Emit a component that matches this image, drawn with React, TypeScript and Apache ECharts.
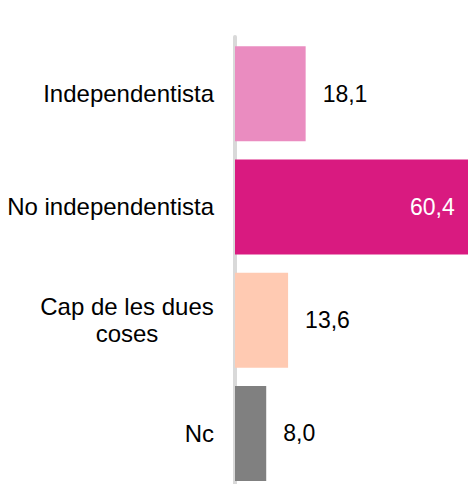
import React, { useEffect, useRef } from "react";
import * as echarts from "echarts";

const categories = ["Independentista", "No independentista", "Cap de les dues coses", "Nc"];
const values = [18.1, 60.4, 13.6, 8.0];
const colors = ["#EA8CC0", "#D91A80", "#FFCAB2", "#808080"];

export default function App() {
  const ref = useRef<HTMLDivElement>(null);
  useEffect(() => {
    if (!ref.current) return;
    const chart = echarts.init(ref.current, undefined, { renderer: "svg" });
    const font = "'Liberation Sans', Arial, sans-serif";
    chart.setOption({
      animation: false,
      grid: { left: 235, top: 37, width: 242, height: 453, containLabel: false },
      xAxis: { type: "value", min: 0, max: 62, show: false },
      yAxis: {
        type: "category",
        data: categories,
        inverse: true,
        axisLine: { show: true, lineStyle: { color: "#d9d9d9", width: 4 } },
        axisTick: { show: false },
        splitLine: { show: false },
        axisLabel: {
          margin: 21,
          fontSize: 24,
          fontFamily: font,
          color: "#000",
          align: "right",
          formatter: (v: string) =>
            v === "Cap de les dues coses" ? "{c|Cap de les dues}\n{c|coses}" : v,
          rich: {
            c: { width: 174, align: "center", fontSize: 24, fontFamily: font, color: "#000", lineHeight: 27 },
          },
        },
      },
      series: [
        {
          type: "bar",
          barWidth: 95,
          data: values.map((v, i) => ({
            value: v,
            itemStyle: { color: colors[i] },
            label:
              i === 1
                ? { position: "insideRight", distance: 16, color: "#fff" }
                : { position: "right", distance: 17, color: "#000" },
          })),
          label: {
            show: true,
            fontSize: 23,
            fontFamily: font,
            formatter: (p: any) => p.value.toFixed(1).replace(".", ","),
          },
        },
      ],
    });
    return () => chart.dispose();
  }, []);
  return (
    <div
      style={{ position: "absolute", left: 0, top: 0, width: 468, height: 484, overflow: "hidden", background: "#fff" }}
    >
      <div ref={ref} style={{ width: 490, height: 500 }} />
    </div>
  );
}
